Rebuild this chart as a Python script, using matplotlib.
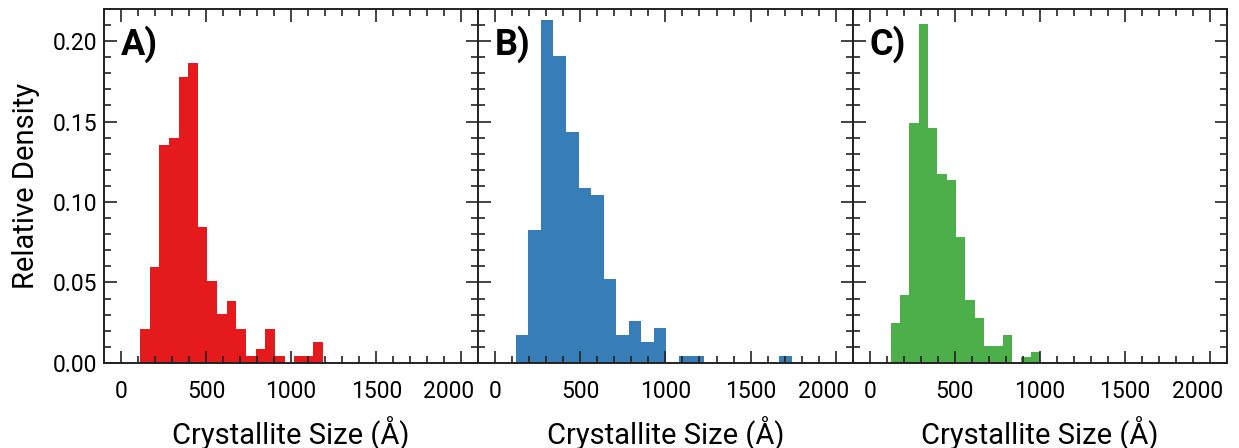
import numpy as np
import matplotlib
matplotlib.use("Agg")
import matplotlib.pyplot as plt
from matplotlib.ticker import MultipleLocator, FormatStrFormatter
from matplotlib.transforms import ScaledTranslation

# ---------------- data ----------------
panel_labels = ["A)", "B)", "C)"]
colors = ["#e41a1c", "#377eb8", "#4daf4a"]

# bin ranges (Å)
range_a = (112, 1188)
range_b = (121, 1741)
range_c = (124, 1002)

dens_a = [0.0212, 0.0595, 0.1355, 0.1396, 0.1780, 0.1863, 0.0846, 0.0508,
          0.0301, 0.0382, 0.0212, 0.0042, 0.0085, 0.0212, 0.0042, 0.0,
          0.0042, 0.0042, 0.0127]
dens_b = [0.0172, 0.0828, 0.2129, 0.1909, 0.1434, 0.1085, 0.1044, 0.0523,
          0.0174, 0.0261, 0.0131, 0.0218, 0.0, 0.0044, 0.0044, 0.0,
          0.0, 0.0, 0.0, 0.0, 0.0, 0.0044]
dens_c = [0.0245, 0.0423, 0.1494, 0.2104, 0.1460, 0.1174, 0.1139, 0.0782,
          0.0388, 0.0280, 0.0102, 0.0102, 0.0174, 0.0, 0.0034, 0.0068]

xticks = [0, 500, 1000, 1500, 2000]
yticks = [0.00, 0.05, 0.10, 0.15, 0.20]
xlabel = "Crystallite Size (Å)"
ylabel = "Relative Density"

# ---------------- plot ----------------
plt.rcParams['font.family'] = ['Roboto', 'DejaVu Sans']

fig, axes = plt.subplots(1, 3, figsize=(12.39, 4.48), dpi=100, sharey=True)
fig.subplots_adjust(left=0.0839, right=0.9903, top=0.98, bottom=0.19, wspace=0)

datasets = [(range_a, dens_a), (range_b, dens_b), (range_c, dens_c)]
for i, (ax, (rng, dens), col, lab) in enumerate(zip(axes, datasets, colors, panel_labels)):
    edges = np.linspace(rng[0], rng[1], len(dens) + 1)
    ax.stairs(dens, edges, fill=True, color=col, linewidth=0)
    ax.set_xlim(-100, 2100)
    ax.set_ylim(0, 0.22)
    ax.set_xticks(xticks)
    ax.xaxis.set_minor_locator(MultipleLocator(100))
    ax.set_yticks(yticks)
    ax.yaxis.set_minor_locator(MultipleLocator(0.01))
    ax.yaxis.set_major_formatter(FormatStrFormatter('%.2f'))
    ax.tick_params(which='both', direction='in', top=True, right=True,
                   color='#222222', width=1.2)
    ax.tick_params(which='major', length=9)
    ax.tick_params(which='minor', length=5)
    ax.tick_params(axis='x', which='major', labelsize=16.5, pad=12.5)
    ax.tick_params(axis='y', which='major', labelsize=16.5, pad=5)
    for s in ax.spines.values():
        s.set_linewidth(1.4)
        s.set_color('#222222')
    ax.set_xlabel(xlabel, fontsize=21, labelpad=9)
    ax.text(0.045, 0.87, lab, transform=ax.transAxes, fontsize=26,
            fontweight='bold', ha='left', va='baseline')
    if i > 0:
        ax.tick_params(axis='y', labelleft=False)
    # last x tick label is nudged left in the reference
    last = ax.get_xticklabels()[-1]
    last.set_transform(last.get_transform() +
                       ScaledTranslation(-12.5 / 100, 0, fig.dpi_scale_trans))

axes[0].set_ylabel(ylabel, fontsize=21, labelpad=9)

fig.savefig("out.png", dpi=100)
